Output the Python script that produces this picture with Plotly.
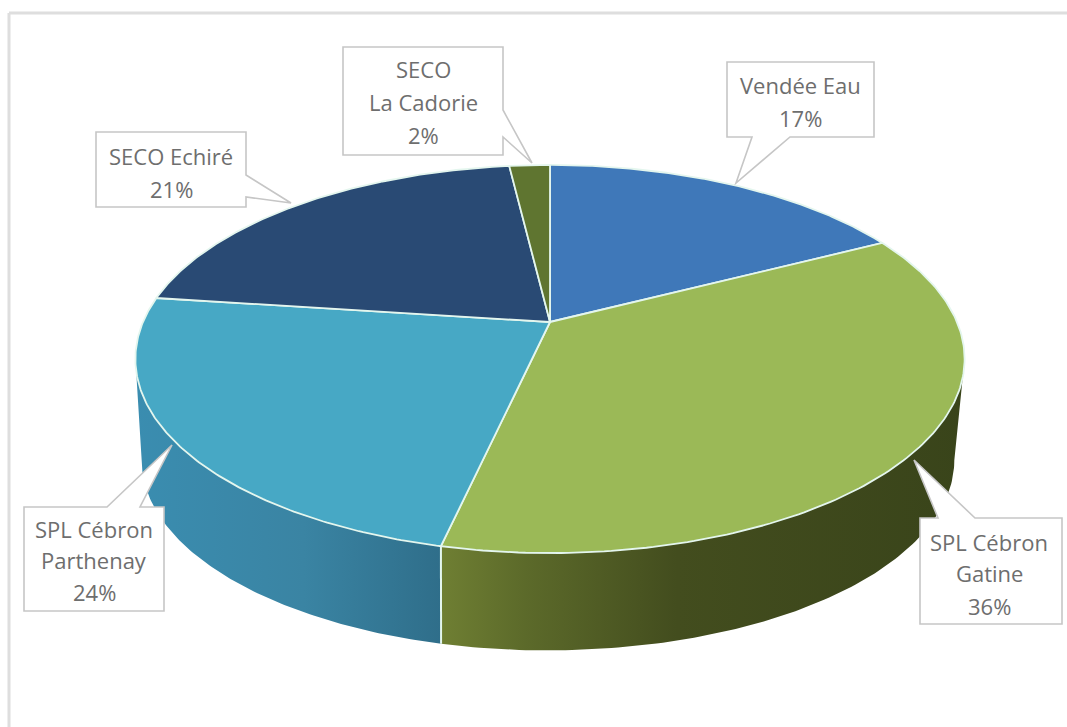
import numpy as np
import plotly.graph_objects as go

# --- data ---
categories = ["Vendée Eau", "SPL Cébron Gatine", "SPL Cébron Parthenay", "SECO Echiré", "SECO La Cadorie"]
shares = [17.4, 36.1, 23.6, 21.0, 1.9]
top_colors = ["#3f78b9", "#9bb957", "#47a8c5", "#294a74", "#5f7530"]
label_lines = [
    ["Vendée Eau"],
    ["SPL Cébron", "Gatine"],
    ["SPL Cébron", "Parthenay"],
    ["SECO Echiré"],
    ["SECO", "La Cadorie"],
]

# --- view geometry of the tilted disc ---
W, H = 1067, 727
CX, CY = 550, 322
A, B, K = 407, 187, 0.1907
DEPTH, SHRINK, BOTTOM_DX = 102, 0.98, -2
RIM = "#e4f6ee"


def project(t_deg, bottom=False):
    t = np.radians(np.asarray(t_deg, dtype=float))
    sx, fwd = np.sin(t), np.cos(t)
    den = 1 + K * fwd
    x, y = A * sx / den, -B * fwd / den
    if bottom:
        return CX + BOTTOM_DX + SHRINK * x, CY + SHRINK * y + DEPTH
    return CX + x, CY + y


edges = 360 * np.cumsum([0] + shares) / sum(shares)
fig = go.Figure()

# side wall, only the two front slices show
side_scales = {
    1: [[0, "#6f7f33"], [0.16, "#5c6a2a"], [0.45, "#434d1e"], [1, "#39441a"]],
    2: [[0, "#3a8db0"], [0.55, "#3a84a3"], [1, "#2f6e8a"]],
}
for i, scale in side_scales.items():
    lo, hi = max(edges[i], 101), min(edges[i + 1], 259)
    t = np.linspace(lo, hi, 120)
    xt, yt = project(t)
    xb, yb = project(t[::-1], bottom=True)
    x = np.r_[xt, xb, xt[0]]
    y = np.r_[yt, yb, yt[0]]
    fig.add_trace(go.Scatter(
        x=x, y=y, mode="lines", fill="toself", hoverinfo="skip", showlegend=False,
        line=dict(width=0, color="rgba(0,0,0,0)"),
        fillgradient=dict(type="horizontal", colorscale=scale, start=float(x.min()), stop=float(x.max())),
    ))

# light seam between the two side slices
xs0, ys0 = project(edges[2])
xs1, ys1 = project(edges[2], bottom=True)
fig.add_trace(go.Scatter(x=[xs0, xs1], y=[ys0, ys1], mode="lines", hoverinfo="skip", showlegend=False,
                         line=dict(color=RIM, width=2)))

# top face
for i, name in enumerate(categories):
    t = np.linspace(edges[i], edges[i + 1], 160)
    xa, ya = project(t)
    fig.add_trace(go.Scatter(
        x=np.r_[CX, xa, CX], y=np.r_[CY, ya, CY], mode="lines", fill="toself", name=name,
        fillcolor=top_colors[i], line=dict(color=RIM, width=1.8), showlegend=False, hoverinfo="name",
    ))

# callouts: box corners + wedge, closed outline
FRAME = "#c6c6c6"
callouts = {
    0: dict(path=[(727, 62), (874, 62), (874, 137), (790, 137), (736, 183), (752, 137), (727, 137)],
            cx=800, ys=[85, 118]),
    1: dict(path=[(920, 518), (938, 518), (914, 460), (975, 518), (1062, 518), (1062, 624), (920, 624)],
            cx=989, ys=[542, 573, 606]),
    2: dict(path=[(24, 507), (107, 507), (172, 445), (140, 507), (164, 507), (164, 611), (24, 611)],
            cx=94, ys=[529, 560, 592]),
    3: dict(path=[(96, 132), (246, 132), (246, 175), (291, 203), (246, 197), (246, 207), (96, 207)],
            cx=171, ys=[156, 189]),
    4: dict(path=[(343, 47), (503, 47), (503, 110), (532, 163), (503, 137), (503, 155), (343, 155)],
            cx=423, ys=[69, 102, 135]),
}
shapes = [
    dict(type="line", xref="x", yref="y", x0=9, x1=1067, y0=13, y1=13, line=dict(color="#dedede", width=3)),
    dict(type="line", xref="x", yref="y", x0=9, x1=9, y0=13, y1=727, line=dict(color="#dedede", width=3)),
]
annotations = []
for i, c in callouts.items():
    p = "M" + "L".join(f"{x},{y}" for x, y in c["path"]) + "Z"
    shapes.append(dict(type="path", path=p, xref="x", yref="y", fillcolor="white", layer="above",
                       line=dict(color=FRAME, width=1.6)))
    lines = label_lines[i] + [f"{round(shares[i])}%"]
    for line, y in zip(lines, c["ys"]):
        annotations.append(dict(x=c["cx"], y=y, xref="x", yref="y", text=line, showarrow=False,
                                font=dict(family="Open Sans", size=22, color="#6e6e6e")))

fig.update_layout(
    width=W, height=H, margin=dict(l=0, r=0, t=0, b=0),
    paper_bgcolor="white", plot_bgcolor="white", showlegend=False,
    xaxis=dict(range=[0, W], visible=False, fixedrange=True),
    yaxis=dict(range=[H, 0], visible=False, fixedrange=True),
    shapes=shapes, annotations=annotations,
)
fig.write_html("out.html", config={"displayModeBar": False},
               post_script="document.body.style.margin='0';")
